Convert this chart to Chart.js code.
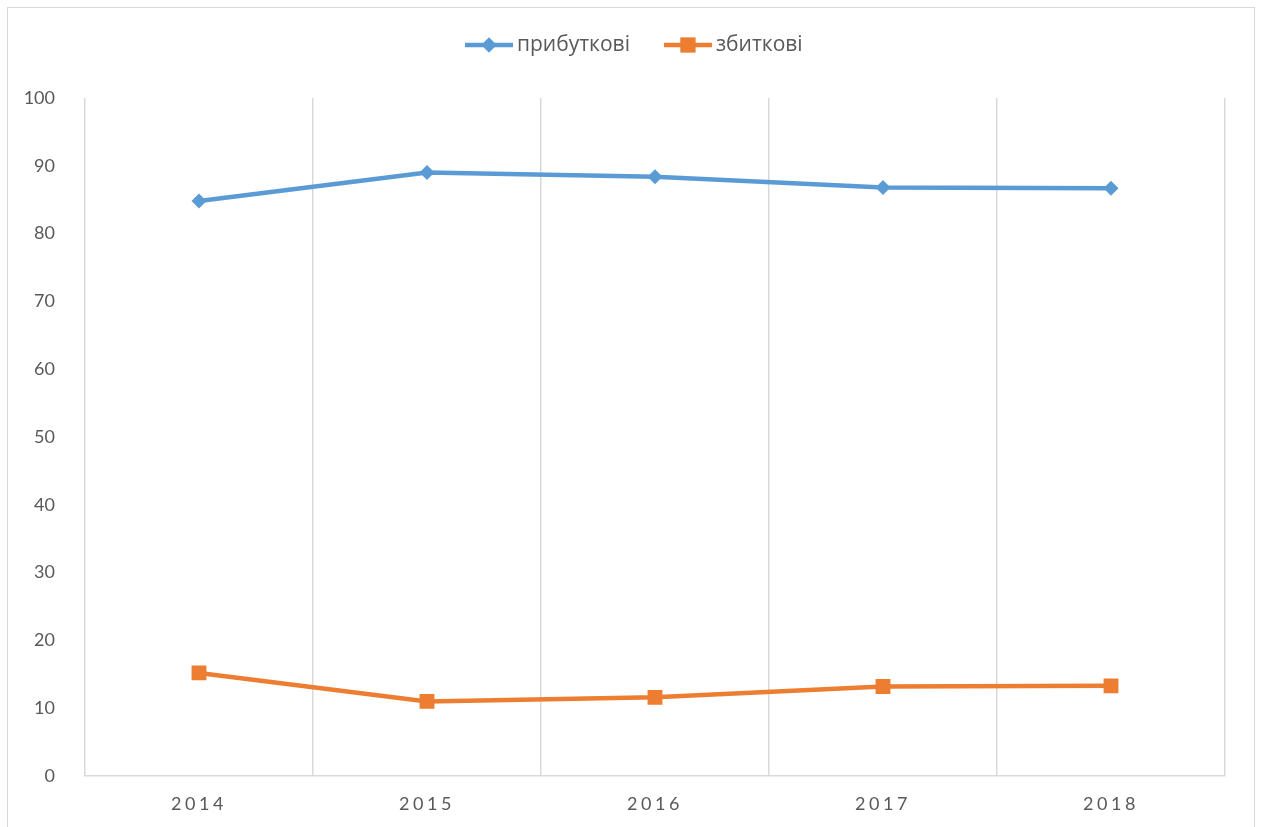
<!DOCTYPE html>
<html><head><meta charset="utf-8">
<script src="https://cdn.jsdelivr.net/npm/chart.js@4/dist/chart.umd.min.js"></script>
<style>html,body{margin:0;padding:0;background:#fff;}#wrap{width:1261px;height:827px;position:relative;}</style>
</head><body><div id="wrap"><canvas id="c" width="1261" height="827"></canvas></div>
<script>
const years = ['2014','2015','2016','2017','2018'];
const profitable = [84.8, 89.0, 88.4, 86.8, 86.7];
const unprofitable = [15.2, 11.0, 11.6, 13.2, 13.3];
const seriesNames = ['прибуткові','збиткові'];
const yTicks = [0,10,20,30,40,50,60,70,80,90,100];

const BLUE = '#5B9BD5', ORANGE = '#ED7D31', GRID = '#D9D9D9', TXT = '#595959';

const framePlugin = {
  id: 'frame',
  beforeDraw(chart) {
    const ctx = chart.ctx;
    ctx.save();
    ctx.fillStyle = '#fff';
    ctx.fillRect(0, 0, chart.width, chart.height);
    ctx.strokeStyle = '#D9D9D9';
    ctx.lineWidth = 1;
    ctx.strokeRect(7.5, 7.5, 1247, 840);
    ctx.restore();
    const s = chart.scales.x;
    if (s && !s._ls) {
      const orig = s.drawLabels.bind(s);
      s.drawLabels = function (ca) { this.ctx.save(); this.ctx.letterSpacing = '3.5px'; orig(ca); this.ctx.restore(); };
      s._ls = true;
    }
  },
  afterDraw(chart) {
    const ctx = chart.ctx;
    ctx.save();
    ctx.font = '21px "Liberation Sans Narrow", "Open Sans", sans-serif';
    ctx.textBaseline = 'middle';
    const y = 45;
    const items = chart.data.datasets.map(d => ({label: d.label, color: d.borderColor, style: d.pointStyle, r: d.pointRadius}));
    const lineW = 48, gap = 4, between = 34;
    let x = 465;
    items.forEach(it => {
      ctx.strokeStyle = it.color; ctx.lineWidth = 4.5; ctx.lineCap = 'butt';
      ctx.beginPath(); ctx.moveTo(x, y); ctx.lineTo(x + lineW, y); ctx.stroke();
      ctx.fillStyle = it.color;
      Chart.helpers.drawPoint(ctx, {pointStyle: it.style, radius: it.r, rotation: 0, borderWidth: 0}, x + lineW / 2, y);
      ctx.fill();
      ctx.fillStyle = TXT;
      ctx.fillText(it.label, x + lineW + gap, y);
      x += lineW + gap + ctx.measureText(it.label).width + between;
    });
    ctx.restore();
  }
};

new Chart(document.getElementById('c'), {
  type: 'line',
  data: {
    labels: years,
    datasets: [
      {label: seriesNames[0], data: profitable, borderColor: BLUE, backgroundColor: BLUE, borderWidth: 4.5,
       pointStyle: 'rectRot', pointRadius: 7.5, pointBorderWidth: 0, tension: 0},
      {label: seriesNames[1], data: unprofitable, borderColor: ORANGE, backgroundColor: ORANGE, borderWidth: 4.5,
       pointStyle: 'rect', pointRadius: 10.5, pointBorderWidth: 0, tension: 0}
    ]
  },
  options: {
    responsive: false,
    animation: false,
    layout: {padding: {top: 98, right: 36, bottom: 0, left: 0}},
    plugins: {legend: {display: false}, tooltip: {enabled: false}},
    scales: {
      x: {
        type: 'category',
        offset: true,
        grid: {display: true, offset: true, color: GRID, lineWidth: 1.5, drawTicks: false},
        border: {display: true, color: GRID, width: 1.5},
        ticks: {color: TXT, font: {family: 'Lato, "Open Sans", sans-serif', size: 18}, padding: 17, maxRotation: 0},
        afterFit(s) { s.height = 51; }
      },
      y: {
        min: 0, max: 100,
        afterBuildTicks(s) { s.ticks = yTicks.map(v => ({value: v})); },
        grid: {display: false},
        border: {display: false},
        ticks: {color: TXT, font: {family: 'Lato, "Open Sans", sans-serif', size: 18}, padding: 22},
        afterFit(s) { s.width = 85; }
      }
    }
  },
  plugins: [framePlugin]
});
</script>
</body></html>
